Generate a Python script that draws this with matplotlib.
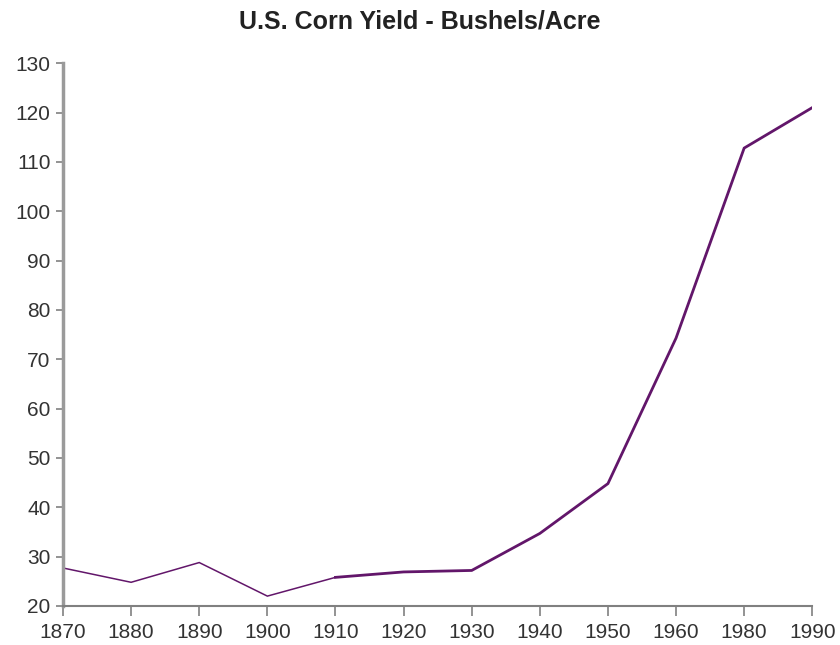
import matplotlib

matplotlib.use("Agg")
import matplotlib.pyplot as plt

# U.S. corn yield, bushels per acre (1970 is not shown in the source)
years = ["1870", "1880", "1890", "1900", "1910", "1920", "1930",
         "1940", "1950", "1960", "1980", "1990"]
yield_bu = [27.7, 24.8, 28.8, 22.0, 25.8, 26.9, 27.2,
            34.7, 44.8, 74.3, 112.8, 121.0]
y_ticks = list(range(20, 131, 10))

plt.rcParams["font.family"] = ["Liberation Sans", "DejaVu Sans"]

fig = plt.figure(figsize=(8.4, 6.45), dpi=100)
ax = fig.add_axes([0.075, 0.0605, 0.892, 0.8415])

x = list(range(len(years)))
line_color = "#62166a"
# thin early section, heavier from 1910 on (as in the source)
ax.plot(x[:5], yield_bu[:5], color=line_color, linewidth=1.1, solid_joinstyle="miter")
ax.plot(x[4:], yield_bu[4:], color=line_color, linewidth=2.0, solid_joinstyle="miter")

ax.set_xlim(0, len(years) - 1)
ax.set_ylim(20, 130)
ax.set_xticks(x)
ax.set_xticklabels(years)
ax.set_yticks(y_ticks)

for side in ("top", "right"):
    ax.spines[side].set_visible(False)
ax.spines["left"].set_color("#9a9a9a")
ax.spines["left"].set_linewidth(2.5)
ax.spines["bottom"].set_color("#808080")
ax.spines["bottom"].set_linewidth(1.5)

ax.tick_params(axis="x", length=7, width=1.2, color="#808080",
               labelsize=15, labelcolor="#333333", pad=5)
ax.tick_params(axis="y", length=5, width=1.2, color="#808080",
               labelsize=15, labelcolor="#333333", pad=4)

fig.suptitle("U.S. Corn Yield - Bushels/Acre", fontsize=18, fontweight="bold",
             color="#222222", y=0.966, va="center")

fig.savefig("out.png", dpi=100)
